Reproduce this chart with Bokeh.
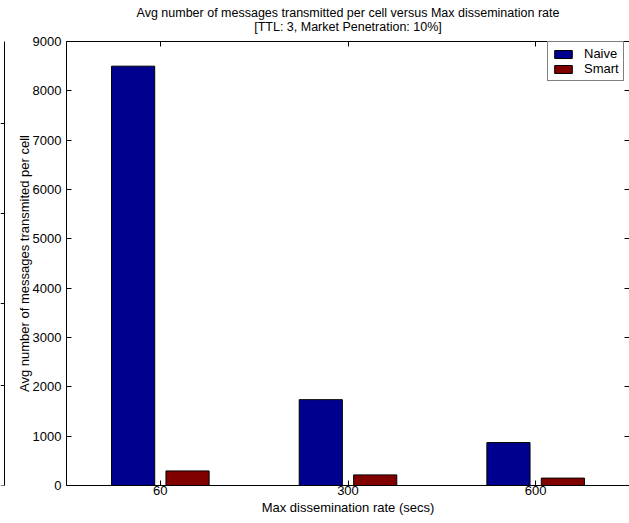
import numpy as np
from bokeh.plotting import figure
from bokeh.layouts import row
from bokeh.models import (ColumnDataSource, Range1d, LinearAxis, FixedTicker, Title,
                          Legend, LegendItem, CustomJSTickFormatter, BoxAnnotation)
from bokeh.embed import file_html
from bokeh.resources import INLINE

# Max dissemination rate categories (secs) and average messages per cell
rates = ["60", "300", "600"]
naive = [8500, 1740, 870]
smart = [295, 215, 150]
y_ticks = [0, 1000, 2000, 3000, 4000, 5000, 6000, 7000, 8000, 9000]

# edge of the neighbouring panel: its top, tick marks and bottom (px from the top)
side_panel_top = 33
side_panel_ticks = [123, 213, 303, 385]
side_panel_bottom = 485

FONT = "Liberation Sans"
NAIVE_COLOR = "#00008F"
SMART_COLOR = "#800000"
BAR_OFFSET = 0.145
BAR_WIDTH = 0.23
FRAME_TOP, FRAME_BOTTOM = 41, 485

pos = np.arange(1, len(rates) + 1)
src = ColumnDataSource(dict(
    x_naive=pos - BAR_OFFSET,
    x_smart=pos + BAR_OFFSET,
    naive=naive,
    smart=smart,
))

blank = CustomJSTickFormatter(code="return ''")

# ---- main chart -------------------------------------------------------------
p = figure(width=624, height=523, output_backend="svg", toolbar_location=None,
           x_range=Range1d(0.5, 3.5), y_range=Range1d(0, 9000),
           min_border_left=61, min_border_right=0,
           min_border_top=FRAME_TOP, min_border_bottom=523 - FRAME_BOTTOM, title=None)
p.grid.visible = False
p.outline_line_color = None
p.background_fill_color = "white"
p.border_fill_color = "white"

r_naive = p.vbar(x="x_naive", top="naive", width=BAR_WIDTH, source=src,
                 fill_color=NAIVE_COLOR, line_color="black", line_width=1)
r_smart = p.vbar(x="x_smart", top="smart", width=BAR_WIDTH, source=src,
                 fill_color=SMART_COLOR, line_color="black", line_width=1)

xa = p.xaxis[0]
xa.ticker = FixedTicker(ticks=list(pos))
xa.major_label_overrides = {int(i): lab for i, lab in zip(pos, rates)}
xa.axis_label = "Max dissemination rate (secs)"

ya = p.yaxis[0]
ya.ticker = FixedTicker(ticks=y_ticks)
ya.axis_label = "Avg number of messages transmited per cell"

for ax in (xa, ya):
    ax.major_tick_in = 5
    ax.major_tick_out = 0
    ax.minor_tick_in = 0
    ax.minor_tick_out = 0
    ax.axis_line_color = "black"
    ax.major_tick_line_color = "black"
    ax.major_label_text_font = FONT
    ax.major_label_text_font_size = "13px"
    ax.major_label_text_color = "black"
    ax.axis_label_text_font = FONT
    ax.axis_label_text_font_size = "13px"
    ax.axis_label_text_font_style = "normal"
    ax.axis_label_text_color = "black"
xa.major_label_standoff = 0
xa.axis_label_standoff = 2
ya.major_label_standoff = 5
ya.axis_label_standoff = -2

top_axis = LinearAxis(ticker=FixedTicker(ticks=list(pos)), formatter=blank,
                      major_tick_in=5, major_tick_out=0, minor_tick_in=0,
                      minor_tick_out=0, major_label_standoff=0,
                      major_label_text_font_size="0px",
                      axis_line_color="black")
right_axis = LinearAxis(ticker=FixedTicker(ticks=y_ticks), formatter=blank,
                        major_tick_in=5, major_tick_out=0, minor_tick_in=0,
                        minor_tick_out=0, major_label_standoff=0,
                        major_label_text_font_size="0px",
                        axis_line_color="black")
p.add_layout(top_axis, "above")
p.add_layout(right_axis, "right")

p.add_layout(Title(text="[TTL: 3, Market Penetration: 10%]", align="center",
                   text_font=FONT, text_font_size="12.5px", text_font_style="normal",
                   text_color="black", standoff=15), "above")
p.add_layout(Title(text="Avg number of messages transmitted per cell versus Max dissemination rate",
                   align="center", text_font=FONT, text_font_size="12.5px",
                   text_font_style="normal", text_color="black", standoff=-19), "above")

legend = Legend(items=[LegendItem(label="Naive", renderers=[r_naive]),
                       LegendItem(label="Smart", renderers=[r_smart])],
                location=(481, 404), padding=4, margin=0, spacing=-2,
                glyph_width=22, glyph_height=10, label_height=10,
                label_standoff=10, label_text_font=FONT, label_text_font_size="13px",
                label_text_color="black", border_line_color="black",
                border_line_width=1, background_fill_color="white",
                background_fill_alpha=1.0)
p.add_layout(legend)

# ---- edge of the neighbouring panel ------------------------------------------
# its frame lines up with the main frame; y data units are pixels from the top
side = figure(width=5, height=523, output_backend="svg", toolbar_location=None,
              x_range=Range1d(0, 5), y_range=Range1d(FRAME_BOTTOM, FRAME_TOP),
              x_axis_location=None, y_axis_location=None,
              min_border_left=0, min_border_right=0,
              min_border_top=FRAME_TOP, min_border_bottom=523 - FRAME_BOTTOM, title=None)
side.grid.visible = False
side.outline_line_color = None
side.background_fill_color = "white"
side.border_fill_color = "white"

def side_box(top, bottom, left, right):
    side.add_layout(BoxAnnotation(top=top, bottom=bottom, left=left, right=right,
                                  left_units="screen", right_units="screen",
                                  fill_color="black", fill_alpha=1.0,
                                  line_color=None))

side_box(side_panel_top - 0.5, side_panel_bottom + 0.5, 3.5, 4.5)
for yv in [side_panel_top] + side_panel_ticks + [side_panel_bottom]:
    side_box(yv - 0.5, yv + 0.5, 0, 4.5)

layout = row(side, p, spacing=0)
open("out.html", "w").write(file_html(layout, INLINE))
